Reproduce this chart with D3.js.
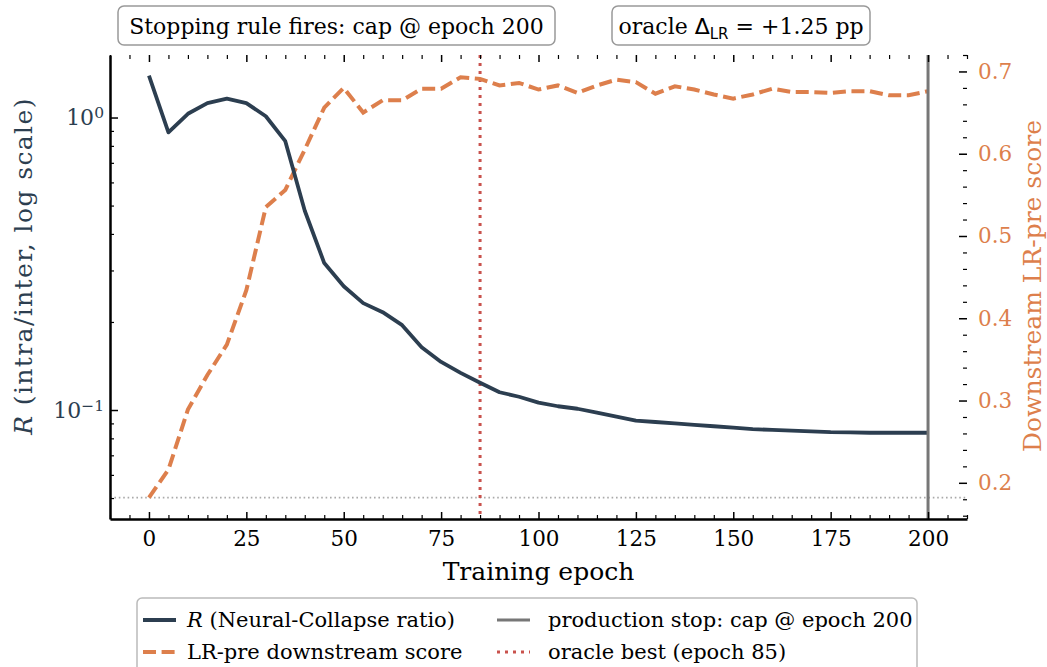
<!DOCTYPE html>
<html>
<head>
<meta charset="utf-8">
<script src="https://cdn.jsdelivr.net/npm/d3@7"></script>
<style>
  body { margin: 0; background: #fff; }
  text { font-family: "DejaVu Serif", serif; }
</style>
</head>
<body>
<svg id="chart" width="1047" height="667"></svg>
<script>
// data
const epochs = [0, 5, 10, 15, 20, 25, 30, 35, 40, 45, 50, 55, 60, 65, 70, 75, 80, 85, 90, 95, 100,
  105, 110, 115, 120, 125, 130, 135, 140, 145, 150, 155, 160, 165, 170, 175, 180, 185, 190, 195, 200];
const ratioR = [1.39, 0.89, 1.03, 1.12, 1.16, 1.12, 1.01, 0.83, 0.48, 0.318, 0.265, 0.232, 0.216, 0.195,
  0.164, 0.146, 0.134, 0.124, 0.115, 0.111, 0.106, 0.103, 0.101, 0.098, 0.095, 0.092, 0.091, 0.090,
  0.089, 0.088, 0.087, 0.086, 0.0855, 0.085, 0.0845, 0.084, 0.0838, 0.0836, 0.0836, 0.0836, 0.0836];
const lrScore = [0.182, 0.216, 0.289, 0.331, 0.368, 0.434, 0.535, 0.556, 0.605, 0.656, 0.680, 0.650,
  0.665, 0.665, 0.679, 0.679, 0.693, 0.691, 0.683, 0.686, 0.678, 0.683, 0.674, 0.683, 0.690, 0.687,
  0.673, 0.682, 0.678, 0.672, 0.667, 0.672, 0.679, 0.675, 0.675, 0.674, 0.676, 0.676, 0.671, 0.671, 0.676];
const baselineScore = 0.182;
const stopEpoch = 200;
const oracleEpoch = 85;

const xMajor = [0, 25, 50, 75, 100, 125, 150, 175, 200];
const leftMajor = [0.1, 1];
const leftMinor = [0.05, 0.06, 0.07, 0.08, 0.09, 0.2, 0.3, 0.4, 0.5, 0.6, 0.7, 0.8, 0.9];
const rightMajor = [0.2, 0.3, 0.4, 0.5, 0.6, 0.7];

const legendItems = [
  { label: "(Neural-Collapse ratio)", italic: "R", color: "#2c3e50", dash: null, w: 4 },
  { label: "LR-pre downstream score", color: "#dd7f4c", dash: "13,5.6", w: 4 },
  { label: "production stop: cap @ epoch 200", color: "#777777", dash: null, w: 3 },
  { label: "oracle best (epoch 85)", color: "#c9524d", dash: "3,5", w: 3 }
];

const navy = "#2c3e50", orange = "#dd7f4c";
const L = 110, R = 967, T = 55, B = 519;
const tickFont = 21.5, labelFont = 25;

const svg = d3.select("#chart");

const x = d3.scaleLinear().domain([-10, 210]).range([L, R]);
const yR = d3.scaleLog().domain([0.0424, 1.636]).range([B, T]);
const yS = d3.scaleLinear().domain([0.156, 0.720]).range([B, T]);

// baseline dotted line
svg.append("line")
  .attr("x1", L).attr("x2", R)
  .attr("y1", yS(baselineScore)).attr("y2", yS(baselineScore))
  .attr("stroke", "#aaaaaa").attr("stroke-width", 1.6)
  .attr("stroke-dasharray", "1.6,2.8");

// oracle line
svg.append("line")
  .attr("x1", x(oracleEpoch)).attr("x2", x(oracleEpoch))
  .attr("y1", T).attr("y2", B)
  .attr("stroke", "#c9524d").attr("stroke-width", 3)
  .attr("stroke-dasharray", "3,5");

const lineR = d3.line().x((d, i) => x(epochs[i])).y(d => yR(d));
const lineS = d3.line().x((d, i) => x(epochs[i])).y(d => yS(d));

svg.append("path")
  .attr("d", lineS(lrScore))
  .attr("fill", "none").attr("stroke", orange)
  .attr("stroke-width", 4).attr("stroke-dasharray", "13,5.6");

svg.append("path")
  .attr("d", lineR(ratioR))
  .attr("fill", "none").attr("stroke", navy)
  .attr("stroke-width", 3.8).attr("stroke-linejoin", "round");

svg.append("line")
  .attr("x1", x(stopEpoch)).attr("x2", x(stopEpoch))
  .attr("y1", T).attr("y2", B)
  .attr("stroke", "#777777").attr("stroke-width", 3);

// minor tick lists
const xMinor = d3.range(-10, 211, 5).filter(v => v % 25 !== 0);
const rightMinor = d3.range(16, 73, 2).map(v => v / 100).filter(v => Math.round(v * 100) % 10 !== 0);

function styleTicks(g, w) {
  g.selectAll(".tick line").attr("stroke", "#000").attr("stroke-width", w);
  g.selectAll("text").attr("font-family", "DejaVu Serif").attr("font-size", tickFont).attr("fill", "#000");
}

// bottom axis
const gx = svg.append("g").attr("transform", `translate(0,${B})`)
  .call(d3.axisBottom(x).tickValues(xMajor).tickSize(-7).tickSizeOuter(0).tickPadding(12).tickFormat(d3.format("d")));
styleTicks(gx, 1.5);
gx.select(".domain").attr("stroke", "#000").attr("stroke-width", 2.5);
svg.append("g").attr("transform", `translate(0,${B})`)
  .call(d3.axisBottom(x).tickValues(xMinor).tickSize(-4).tickFormat(""))
  .call(g => g.select(".domain").remove())
  .call(g => styleTicks(g, 1.2));

// top ticks (no spine)
svg.append("g").attr("transform", `translate(0,${T})`)
  .call(d3.axisTop(x).tickValues(xMajor).tickSize(-7).tickFormat(""))
  .call(g => g.select(".domain").remove())
  .call(g => styleTicks(g, 1.5));
svg.append("g").attr("transform", `translate(0,${T})`)
  .call(d3.axisTop(x).tickValues(xMinor).tickSize(-4).tickFormat(""))
  .call(g => g.select(".domain").remove())
  .call(g => styleTicks(g, 1.2));

// left log axis
const gl = svg.append("g").attr("transform", `translate(${L},0)`)
  .call(d3.axisLeft(yR).tickValues(leftMajor).tickSize(-8).tickSizeOuter(0).tickPadding(6).tickFormat(""));
styleTicks(gl, 1.5);
gl.select(".domain").attr("stroke", "#000").attr("stroke-width", 2.5);
gl.selectAll(".tick text").each(function(d) {
  const t = d3.select(this).attr("fill", navy).attr("font-family", "DejaVu Sans").attr("font-size", 22);
  t.append("tspan").text("10");
  t.append("tspan").attr("dy", "-0.45em").attr("font-size", 15.5).text(String(Math.round(Math.log10(d))).replace("-", "\u2212"));
});
svg.append("g").attr("transform", `translate(${L},0)`)
  .call(d3.axisLeft(yR).tickValues(leftMinor).tickSize(-4).tickFormat(""))
  .call(g => g.select(".domain").remove())
  .call(g => styleTicks(g, 1.2));

// right axis (ticks only)
const gr = svg.append("g").attr("transform", `translate(${R},0)`)
  .call(d3.axisRight(yS).tickValues(rightMajor).tickSize(-8).tickPadding(11).tickFormat(d3.format(".1f")));
gr.select(".domain").remove();
styleTicks(gr, 1.5);
gr.selectAll(".tick text").attr("fill", orange);
svg.append("g").attr("transform", `translate(${R},0)`)
  .call(d3.axisRight(yS).tickValues(rightMinor).tickSize(-4).tickFormat(""))
  .call(g => g.select(".domain").remove())
  .call(g => styleTicks(g, 1.2));

// axis labels
svg.append("text")
  .attr("x", (L + R) / 2).attr("y", 580)
  .attr("text-anchor", "middle").attr("font-size", labelFont)
  .text("Training epoch");

const ly = svg.append("text")
  .attr("transform", "translate(32,266) rotate(-90)")
  .attr("text-anchor", "middle").attr("font-size", labelFont).attr("fill", navy)
  .attr("letter-spacing", 1.4);
ly.append("tspan").attr("font-style", "italic").text("R");
ly.append("tspan").text(" (intra/inter, log scale)");

svg.append("text")
  .attr("transform", "translate(1041,286) rotate(-90)")
  .attr("text-anchor", "middle").attr("font-size", labelFont).attr("fill", orange)
  .text("Downstream LR-pre score");

// annotation boxes
svg.append("rect").attr("x", 118).attr("y", 6).attr("width", 437).attr("height", 39)
  .attr("rx", 6).attr("fill", "#fff").attr("stroke", "#999").attr("stroke-width", 1.5);
svg.append("text").attr("x", 336.5).attr("y", 34).attr("text-anchor", "middle").attr("font-size", 22)
  .text("Stopping rule fires: cap @ epoch 200");

svg.append("rect").attr("x", 612).attr("y", 6).attr("width", 258).attr("height", 39)
  .attr("rx", 6).attr("fill", "#fff").attr("stroke", "#999").attr("stroke-width", 1.5);
const ann = svg.append("text").attr("x", 741).attr("y", 34).attr("text-anchor", "middle").attr("font-size", 22);
ann.append("tspan").text("oracle ");
ann.append("tspan").attr("font-family", "DejaVu Sans").text("\u0394");
ann.append("tspan").attr("font-family", "DejaVu Sans").attr("font-size", 15).attr("dy", 5).text("LR");
ann.append("tspan").attr("dy", -5).text(" = +1.25 pp");

// legend
svg.append("rect").attr("x", 137).attr("y", 598).attr("width", 780).attr("height", 90)
  .attr("rx", 5).attr("fill", "#fff").attr("stroke", "#bbb").attr("stroke-width", 1.5);

const legendPos = [[143, 620], [143, 652], [497, 620], [497, 652]];
const lg = svg.append("g").selectAll("g").data(legendItems).join("g")
  .attr("transform", (d, i) => `translate(${legendPos[i][0]},${legendPos[i][1]})`);
lg.append("line").attr("x1", 0).attr("x2", 33).attr("y1", 0).attr("y2", 0)
  .attr("stroke", d => d.color).attr("stroke-width", d => d.w)
  .attr("stroke-dasharray", d => d.dash);
const lt = lg.append("text").attr("x", (d, i) => i < 2 ? 44 : 51).attr("y", 7).attr("font-size", 21);
lt.filter(d => d.italic).append("tspan").attr("font-style", "italic").text(d => d.italic + " ");
lt.append("tspan").text(d => d.label);
</script>
</body>
</html>
